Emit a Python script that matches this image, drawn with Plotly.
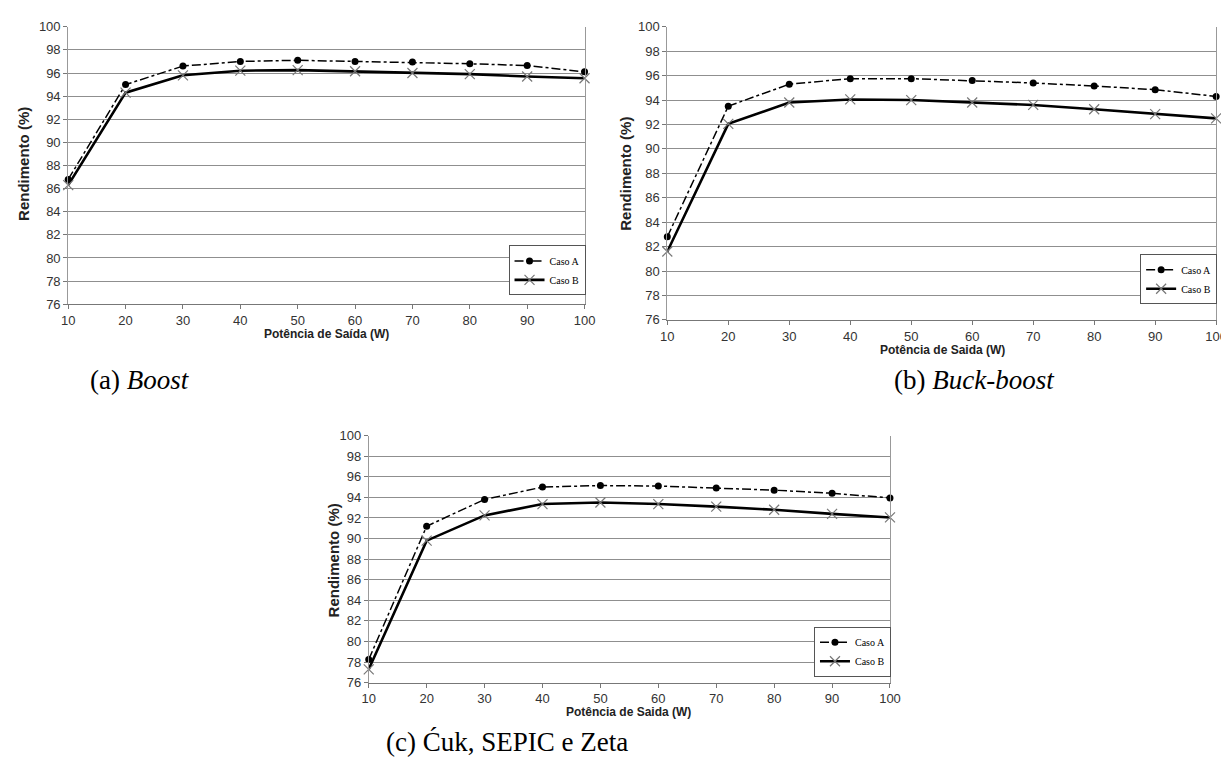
import plotly.graph_objects as go

# ---- data ----
potencia = [10, 20, 30, 40, 50, 60, 70, 80, 90, 100]
boost_caso_a = [86.8, 95.0, 96.6, 97.0, 97.1, 97.0, 96.95, 96.8, 96.65, 96.1]
boost_caso_b = [86.3, 94.3, 95.8, 96.2, 96.25, 96.15, 96.0, 95.9, 95.7, 95.55]
buckboost_caso_a = [82.8, 93.5, 95.3, 95.75, 95.75, 95.6, 95.4, 95.15, 94.85, 94.3]
buckboost_caso_b = [81.6, 92.05, 93.8, 94.05, 94.0, 93.8, 93.6, 93.25, 92.85, 92.5]
cuk_caso_a = [78.25, 91.2, 93.8, 95.0, 95.15, 95.1, 94.9, 94.7, 94.4, 93.95]
cuk_caso_b = [77.3, 89.8, 92.25, 93.35, 93.5, 93.35, 93.1, 92.8, 92.4, 92.05]
serie_nomes = ["Caso A", "Caso B"]
y_ticks = list(range(76, 101, 2))
x_ticks = list(range(10, 101, 10))
x_titles = ["Potência de Saída (W)", "Potência de Saida (W)", "Potência de Saida (W)"]
y_title = "Rendimento (%)"
captions = ["(a) <i>Boost</i>", "(b) <i>Buck-boost</i>", "(c) Ćuk, SEPIC e Zeta"]

W, H = 1229, 767
OFF = 8  # page body margin of the browser

def fx(px):
    return (px - OFF) / W

def fy(py):
    return 1 - (py - OFF) / H

# panel pixel boxes (screen px): left, right, top, bottom
panels = [
    (62, 586, 20, 303),
    (670, 1227, 20, 319),
    (367, 896, 437, 689),
]
panel_data = [
    (boost_caso_a, boost_caso_b),
    (buckboost_caso_a, buckboost_caso_b),
    (cuk_caso_a, cuk_caso_b),
]
legend_boxes = [(587, 243), (1228, 252), (897, 632)]
xtitle_pos = [(324, 333), (949, 350), (631, 719)]
ytitle_pos = [(16, 160), (628, 170), (331, 564)]
caption_pos = [(135, 380), (982, 380), (507, 750)]

TICKFONT = dict(family="Liberation Sans Narrow, Liberation Sans, Arial", size=13, color="#333")
TITLEFONT = dict(family="Liberation Sans, Arial", size=12, color="#222")

fig = go.Figure()
layout = dict(
    width=W, height=H,
    margin=dict(l=0, r=0, t=0, b=0),
    paper_bgcolor="white", plot_bgcolor="white",
    showlegend=True,
    annotations=[],
)

for i, (box, (ya_vals, yb_vals)) in enumerate(zip(panels, panel_data)):
    n = "" if i == 0 else str(i + 1)
    xa, ya = "x" + n, "y" + n
    lg = "legend" + n
    fig.add_trace(go.Scatter(
        x=potencia, y=ya_vals, name=serie_nomes[0], xaxis=xa, yaxis=ya, legend=lg,
        mode="lines+markers", cliponaxis=False,
        line=dict(color="black", width=1.5, dash="dashdot"),
        marker=dict(symbol="circle", size=7, color="black"),
    ))
    fig.add_trace(go.Scatter(
        x=potencia, y=yb_vals, name=serie_nomes[1], xaxis=xa, yaxis=ya, legend=lg,
        mode="lines+markers", cliponaxis=False,
        line=dict(color="black", width=2.6),
        marker=dict(symbol="x-thin-open", size=10, color="#777", line=dict(width=1.2, color="#777")),
    ))
    l, r, t, b = box
    layout["xaxis" + n] = dict(
        domain=[fx(l), min(fx(r), 1.0)], anchor=ya, range=[10, 100], tickvals=x_ticks,
        showgrid=False, zeroline=False, showline=True, linecolor="#777", linewidth=1,
        ticks="outside", ticklen=4, tickcolor="#777", tickfont=TICKFONT,
    )
    layout["yaxis" + n] = dict(
        domain=[fy(b), fy(t)], anchor=xa, range=[76, 100], tickvals=y_ticks,
        showgrid=True, gridcolor="#8f8f8f", gridwidth=1, zeroline=False,
        showline=True, linecolor="#999", linewidth=1, mirror=True,
        ticks="outside", ticklen=4, tickcolor="#777", tickfont=TICKFONT,
    )
    lx, lt = legend_boxes[i]
    layout[lg] = dict(
        x=min(fx(lx), 1.0), xanchor="right", y=fy(lt), yanchor="top",
        bgcolor="white", bordercolor="#555", borderwidth=1,
        font=dict(family="Liberation Serif, Times New Roman", size=10, color="black"),
        itemwidth=30, tracegroupgap=0,
    )
    layout["annotations"].append(dict(
        text="<b>" + x_titles[i] + "</b>", x=fx(xtitle_pos[i][0]), y=fy(xtitle_pos[i][1]),
        xref="paper", yref="paper", showarrow=False, xanchor="center", yanchor="middle",
        font=TITLEFONT,
    ))
    layout["annotations"].append(dict(
        text="<b>" + y_title + "</b>", x=fx(ytitle_pos[i][0]), y=fy(ytitle_pos[i][1]),
        xref="paper", yref="paper", showarrow=False, xanchor="center", yanchor="middle",
        textangle=-90, font=dict(TITLEFONT, size=15),
    ))
    layout["annotations"].append(dict(
        text=captions[i], x=fx(caption_pos[i][0]), y=fy(caption_pos[i][1]),
        xref="paper", yref="paper", showarrow=False, xanchor="center", yanchor="middle",
        font=dict(family="Liberation Serif, Times New Roman", size=27, color="black"),
    ))

fig.update_layout(**layout)
fig.write_html("out.html")
